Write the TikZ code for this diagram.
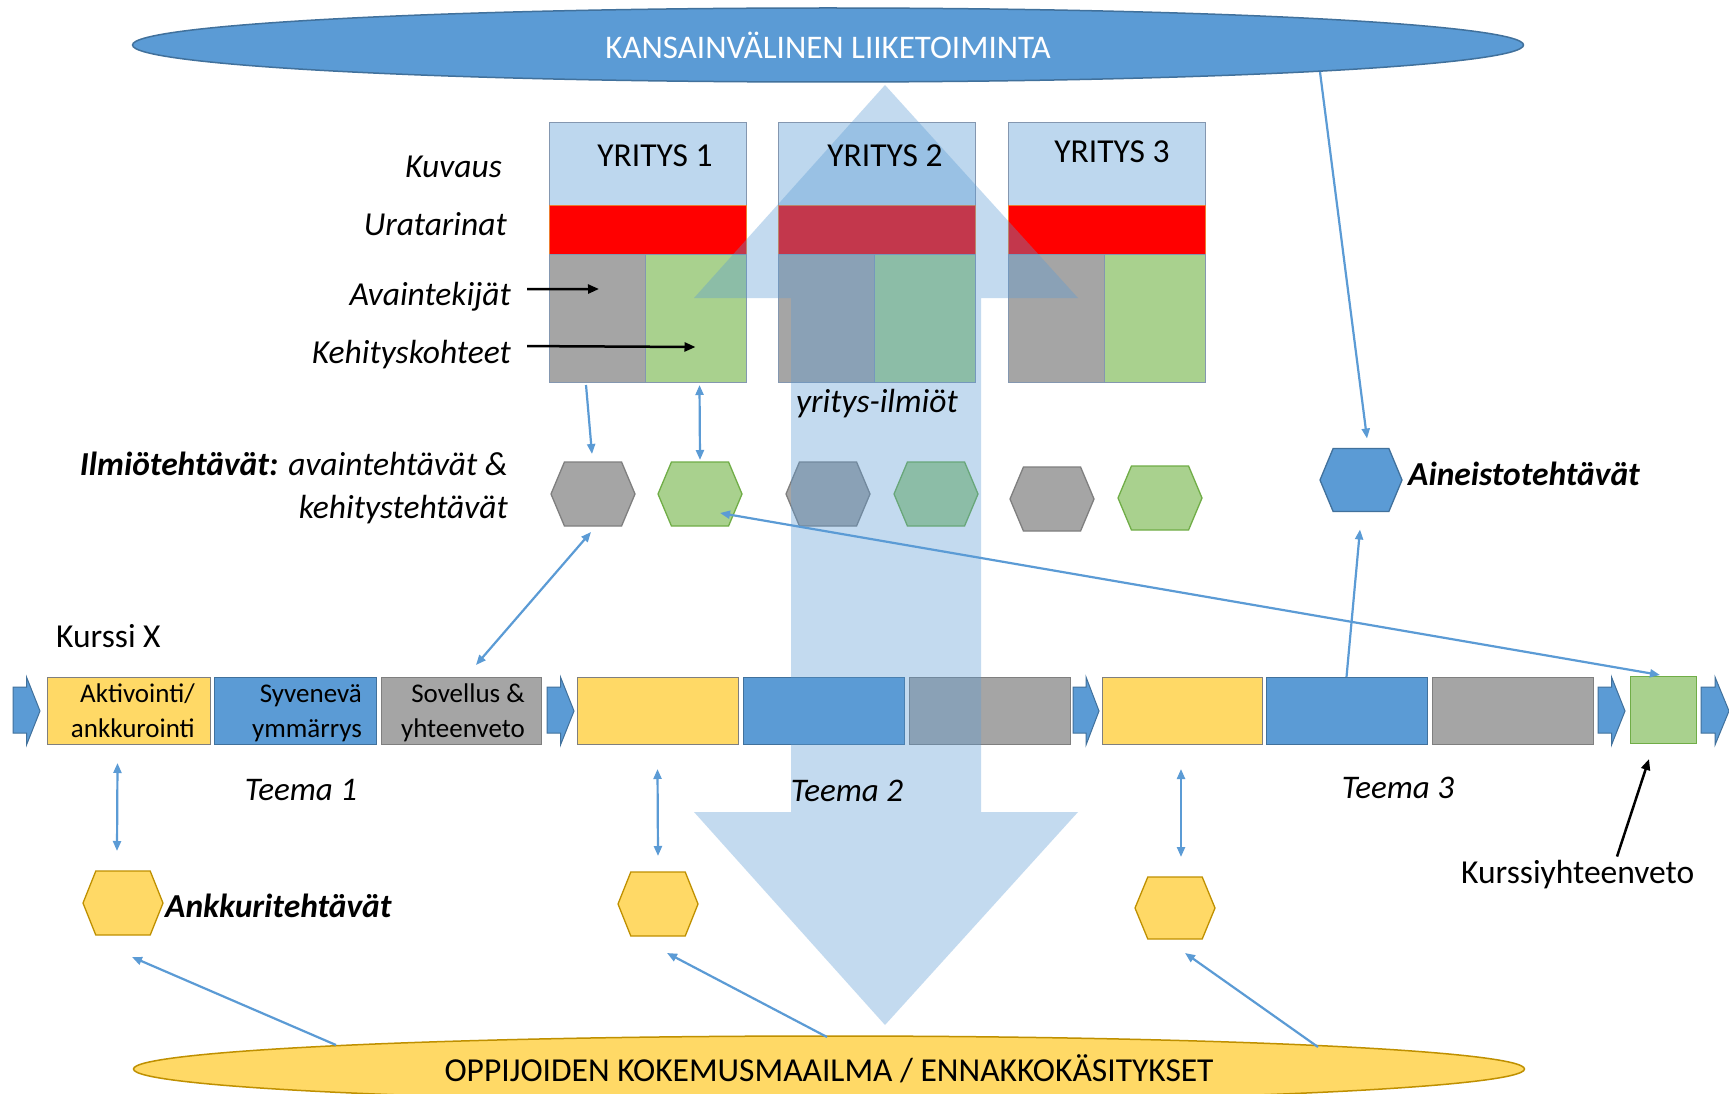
\documentclass[tikz,border=0pt]{standalone}
\usepackage{fontspec}
\setmainfont{Carlito}
\usetikzlibrary{arrows.meta,shapes.geometric}
\definecolor{cblue}{HTML}{5B9BD5}
\definecolor{cbord}{HTML}{41719C}
\definecolor{clight}{HTML}{BDD7EE}
\definecolor{cred}{HTML}{FF0000}
\definecolor{credline}{HTML}{ED7D31}
\definecolor{cgray}{HTML}{A5A5A5}
\definecolor{cgreen}{HTML}{A9D18E}
\definecolor{cyellow}{HTML}{FFD966}
\definecolor{cgold}{HTML}{BF9000}
\definecolor{cgborder}{HTML}{7F7F7F}
\definecolor{cgrborder}{HTML}{70AD47}
\definecolor{cboxline}{HTML}{8497B0}

% hexagon: name, x, y, width, height, fill, draw
\newcommand\myhex[7]{%
  \node[minimum width=#4pt, minimum height=#5pt, inner sep=0pt, outer sep=0pt] (#1) at (#2,#3) {};
  \filldraw[fill=#6, draw=#7, line width=1.3pt, shift={(#2,#3)}]
    ({-#4/2},0) -- ({-#4/2+0.16*#4},{-#5/2}) -- ({#4/2-0.16*#4},{-#5/2}) -- ({#4/2},0)
    -- ({#4/2-0.16*#4},{#5/2}) -- ({-#4/2+0.16*#4},{#5/2}) -- cycle;
}
% chevron arrow in the timeline: start x, tip x
\newcommand\mychev[2]{%
  \filldraw[fill=cblue, draw=cbord, line width=1pt]
    (#1,687) -- ({(#1+#2)/2},687) -- ({(#1+#2)/2},677) -- (#2,711)
    -- ({(#1+#2)/2},745) -- ({(#1+#2)/2},733) -- (#1,733) -- cycle;
}

\begin{document}
\begin{tikzpicture}[x=1pt,y=-1pt,
  part/.style={rectangle, inner sep=0pt, outer sep=0pt, anchor=north west, draw=cboxline, line width=1pt},
  tbox/.style={rectangle, inner sep=0pt, outer sep=0pt, anchor=north west, minimum height=67pt, line width=1pt},
  lab/.style={inner sep=0pt, font=\fontsize{33.5}{40}\selectfont\itshape},
  labb/.style={inner sep=0pt, font=\fontsize{33.5}{40}\selectfont\bfseries\itshape},
  plain/.style={inner sep=0pt, font=\fontsize{33.5}{40}\selectfont},
  teema/.style={inner sep=0pt, font=\fontsize{33}{40}\selectfont\itshape, anchor=base},
  ttxt/.style={inner sep=0pt, font=\fontsize{27}{33}\selectfont, anchor=base east},
  conn/.style={draw=cblue, line width=2.2pt, -{Triangle[length=10pt,width=8pt]}},
  dconn/.style={draw=cblue, line width=2.2pt, {Triangle[length=10pt,width=8pt]}-{Triangle[length=10pt,width=8pt]}},
  bconn/.style={draw=black, line width=2.5pt, -{Triangle[length=11pt,width=9pt]}},
  bigarrow/.style={fill=cblue, fill opacity=0.36},
]
\useasboundingbox (0,0) rectangle (1729,1094);
\fill[white] (0,0) rectangle (1729,1094);

% ellipses
\node[ellipse, fill=cblue, draw=cbord, line width=1.5pt, minimum width=1391pt, minimum height=74pt,
      inner sep=0pt, outer sep=0pt, text=white, font=\fontsize{33}{40}\selectfont] (top) at (828,45) {KANSAINVÄLINEN LIIKETOIMINTA};
\node[ellipse, fill=cyellow, draw=cgold, line width=1.5pt, minimum width=1391pt, minimum height=66pt,
      inner sep=0pt, outer sep=0pt, font=\fontsize{33.5}{40}\selectfont] (bot) at (829,1069) {OPPIJOIDEN KOKEMUSMAAILMA / ENNAKKOKÄSITYKSET};

% company boxes
\node[part, fill=clight, minimum width=197pt, minimum height=83pt] (k1) at (549,123) {};
\node[part, fill=cred, draw=credline, minimum width=197pt, minimum height=48pt] (r1) at (549,206) {};
\node[part, fill=cgray, minimum width=96pt, minimum height=128pt] (g1) at (549,254) {};
\node[part, fill=cgreen, minimum width=101pt, minimum height=128pt] (v1) at (645,254) {};

\node[part, fill=clight, minimum width=197pt, minimum height=83pt] (k2) at (778,123) {};
\node[part, fill=cred, draw=credline, minimum width=197pt, minimum height=48pt] (r2) at (778,206) {};
\node[part, fill=cgray, minimum width=96pt, minimum height=128pt] (g2) at (778,254) {};
\node[part, fill=cgreen, minimum width=101pt, minimum height=128pt] (v2) at (874,254) {};

\node[part, fill=clight, minimum width=197pt, minimum height=83pt] (k3) at (1008,123) {};
\node[part, fill=cred, draw=credline, minimum width=197pt, minimum height=48pt] (r3) at (1008,206) {};
\node[part, fill=cgray, minimum width=96pt, minimum height=128pt] (g3) at (1008,254) {};
\node[part, fill=cgreen, minimum width=101pt, minimum height=128pt] (v3) at (1104,254) {};

% hexagons
\myhex{h1}{593}{494}{84}{64}{cgray}{cgborder}
\myhex{h2}{700}{494}{84}{64}{cgreen}{cgrborder}
\myhex{h3}{828}{494}{84}{64}{cgray}{cgborder}
\myhex{h4}{936}{494}{84}{64}{cgreen}{cgrborder}
\myhex{h5}{1052}{499}{84}{64}{cgray}{cgborder}
\myhex{h6}{1160}{498}{84}{64}{cgreen}{cgrborder}
\myhex{hb}{1361}{480}{82}{63}{cblue}{cbord}
\myhex{y1}{123}{903}{80}{64}{cyellow}{cgold}
\myhex{y2}{658}{904}{80}{64}{cyellow}{cgold}
\myhex{y3}{1175}{908}{80}{62}{cyellow}{cgold}

% timeline
\mychev{13}{40}
\node[tbox, fill=cyellow, draw=cgborder, minimum width=163pt] (t1a) at (47,677) {};
\node[tbox, fill=cblue, draw=cbord, minimum width=162pt] (t1b) at (214,677) {};
\node[tbox, fill=cgray, draw=cgborder, minimum width=160pt] (t1c) at (381,677) {};
\mychev{547}{574}
\node[tbox, fill=cyellow, draw=cgborder, minimum width=161pt] (t2a) at (577,677) {};
\node[tbox, fill=cblue, draw=cbord, minimum width=161pt] (t2b) at (743,677) {};
\node[tbox, fill=cgray, draw=cgborder, minimum width=161pt] (t2c) at (909,677) {};
\mychev{1073}{1099}
\node[tbox, fill=cyellow, draw=cgborder, minimum width=160pt] (t3a) at (1102,677) {};
\node[tbox, fill=cblue, draw=cbord, minimum width=161pt] (t3b) at (1266,677) {};
\node[tbox, fill=cgray, draw=cgborder, minimum width=161pt] (t3c) at (1432,677) {};
\mychev{1598}{1625}
\node[tbox, fill=cgreen, draw=cgrborder, minimum width=66pt] (kg) at (1630,676) {};
\mychev{1701}{1729}

% big transparent double arrow
\fill[bigarrow] (885,85) -- (1078,298) -- (981,298) -- (981,812) -- (1078,812) -- (885,1025)
  -- (694,812) -- (791,812) -- (791,298) -- (694,298) -- cycle;

% texts
\node[plain, anchor=base] (n1) at (655,167) {YRITYS 1};
\node[plain, anchor=base] (n2) at (885,167) {YRITYS 2};
\node[plain, anchor=base] (n3) at (1112,163) {YRITYS 3};

\node[lab, anchor=base east] (lku) at (502,178) {Kuvaus};
\node[lab, anchor=base east] (lur) at (507,235) {Uratarinat};
\node[lab, anchor=base east] (lav) at (511,305) {Avaintekijät};
\node[lab, anchor=base east] (lke) at (511,363) {Kehityskohteet};
\node[lab, anchor=base east] (lil1) at (508,475) {\textbf{Ilmiötehtävät:} avaintehtävät \&};
\node[lab, anchor=base east] (lil2) at (508,518) {kehitystehtävät};
\node[lab, anchor=base] (lyi) at (877,412) {yritys-ilmiöt};
\node[labb, anchor=base west] (lai) at (1408,485) {Aineistotehtävät};
\node[labb, anchor=base west] (lan) at (165,917) {Ankkuritehtävät};
\node[plain, anchor=base west] (lkx) at (56,647) {Kurssi X};
\node[plain, anchor=base west] (lks) at (1461,883) {Kurssiyhteenveto};
\node[teema] (lt1) at (301,800) {Teema 1};
\node[teema] (lt2) at (847,801) {Teema 2};
\node[teema] (lt3) at (1398,798) {Teema 3};

\node[ttxt] (x1) at (195,702) {Aktivointi/};
\node[ttxt] (x2) at (195,737) {ankkurointi};
\node[ttxt] (x3) at (362,702) {Syvenevä};
\node[ttxt] (x4) at (362,737) {ymmärrys};
\node[ttxt] (x5) at (525,702) {Sovellus \&};
\node[ttxt] (x6) at (525,737) {yhteenveto};

% connectors
\draw[conn] ([xshift=-11pt,yshift=-3pt]g1.south) -- ([xshift=-1pt,yshift=8pt]h1.north);
\draw[dconn] ([xshift=4pt,yshift=-3pt]v1.south) -- ([yshift=2pt]h2.north);
\draw[dconn] ([xshift=-2pt,yshift=-6pt]h1.south) -- ([xshift=15pt,yshift=12pt]t1c.north);
\draw[dconn] ([xshift=20pt,yshift=-19pt]h2.center) -- ([xshift=-3pt,yshift=1pt]kg.north);
\draw[conn] ([xshift=492pt,yshift=-27pt]top.center) -- ([xshift=6pt,yshift=10pt]hb.north);
\draw[conn] (t3b.north) -- ([xshift=-1pt,yshift=-18pt]hb.south);
\draw[dconn] ([xshift=-11pt,yshift=-19pt]t1a.south) -- ([xshift=-6pt,yshift=20pt]y1.north);
\draw[dconn] ([yshift=-25pt]t2a.south) -- ([yshift=16pt]y2.north);
\draw[dconn] ([xshift=-1pt,yshift=-25pt]t3a.south) -- ([xshift=6pt,yshift=20pt]y3.north);
\draw[conn] ([xshift=-493pt,yshift=24pt]bot.center) -- ([xshift=9pt,yshift=-22pt]y1.south);
\draw[conn] ([xshift=-2pt,yshift=32pt]bot.center) -- ([xshift=9pt,yshift=-17pt]y2.south);
\draw[conn] ([xshift=489pt,yshift=22pt]bot.center) -- ([xshift=10pt,yshift=-14pt]y3.south);

\draw[bconn] ([xshift=16pt,yshift=7pt]lav.east) -- ([xshift=2pt,yshift=29pt]g1.center);
\draw[bconn] ([xshift=16pt,yshift=8pt]lke.east) -- ([yshift=-29pt]v1.center);
\draw[bconn] ([xshift=156pt,yshift=3pt]lks.north west) -- ([xshift=-14pt,yshift=-16pt]kg.south);
\end{tikzpicture}
\end{document}
